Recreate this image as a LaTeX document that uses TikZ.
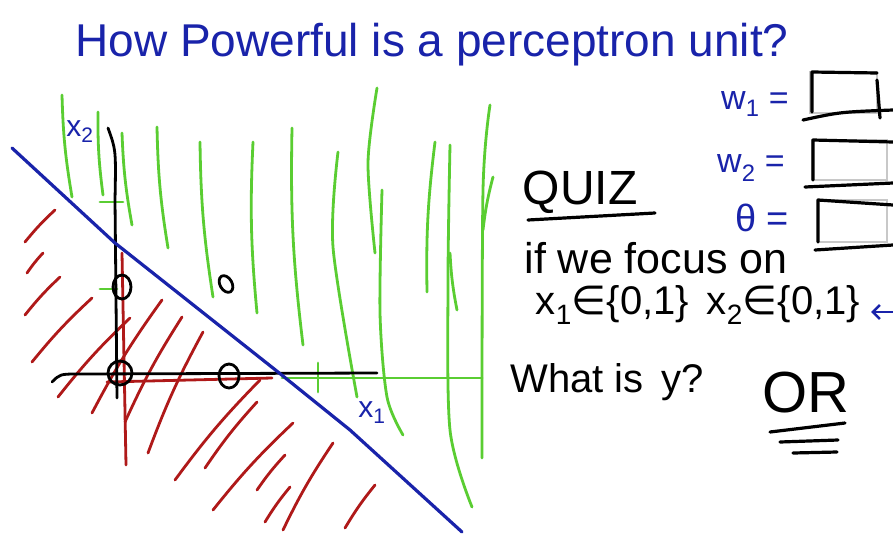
\documentclass[tikz,border=0pt]{standalone}
\usepackage{fontspec}
\setmainfont{Liberation Sans}
\newfontfamily\symbolfont{DejaVu Sans}
\usepackage{xcolor}
\usetikzlibrary{arrows.meta}
\definecolor{penblue}{RGB}{25,35,170}
\definecolor{pengreen}{RGB}{90,205,50}
\definecolor{penred}{RGB}{175,25,25}
\definecolor{boxgray}{RGB}{200,200,200}
\newcommand{\elem}{{\symbolfont ∈}}
\tikzset{
  pen/.style={line width=3.2pt,line cap=round,line join=round},
  hatch/.style={pen,penred,line width=2.8pt},
  grass/.style={pen,pengreen,line width=2.8pt},
  hand/.style={inner sep=0pt,font=\fontsize{#1}{#1}\selectfont},
  hand/.default=40
}
\begin{document}
\begin{tikzpicture}[x=1pt,y=-1pt]
\useasboundingbox (0,0) rectangle (893,533);
\fill[white] (0,0) rectangle (893,533);

% title
\node[hand=46,penblue] (title) at (432,45) {How Powerful is a perceptron unit?};

% green region (output 1)
\foreach \xa/\ya/\xb/\yb in {62/95/72/197,98/112/103/195,122/133/132/225,
  157/127/168/248,200/142/213/297,253/142/257/313,292/128/303/345,
  435/142/427/292,450/253/457/310,493/177/483/230}{
\draw[grass] (\xa,\ya) to[bend right=4] (\xb,\yb);
}
\draw[grass] plot[smooth] coordinates {(338,152) (333,247) (357,397)};
\draw[grass] plot[smooth] coordinates {(377,88) (368,163) (375,253)};
\draw[grass] plot[smooth] coordinates {(382,190) (380,313) (387,397) (403,435)};
\draw[grass] plot[smooth] coordinates {(450,145) (448,280) (450,430) (472,507)};
\draw[grass] plot[smooth] coordinates {(490,105) (483,190) (482,458)};
\draw[grass] (100,202) -- (123,202);
\draw[grass] (100,289) -- (117,289);
\draw[grass] (282,378) -- (482,378);
\draw[grass] (318,363) -- (318,392);

% red region (output 0)
\draw[hatch] (122,253) -- (126,465);
\draw[hatch] (107,382) -- (272,378);
\foreach \xa/\ya/\xb/\yb in {25/242/55/210,27/273/43/253,25/315/60/277,
  32/362/92/298,58/397/130/318,92/413/162/300,125/422/182/317,
  148/453/203/332,175/480/260/380,205/468/257/402,213/510/293/423,
  257/490/285/455,265/522/290/487,283/530/333/443,345/528/375/485}{
\draw[hatch] (\xa,\ya) to[bend left=4] (\xb,\yb);
}

% axes
\draw[pen,black,line width=2.8pt] (108,128) .. controls (116,150) .. (115,200) -- (117,398);
\draw[pen,black,line width=2.8pt] (52,382) .. controls (60,374) .. (80,374) -- (377,373);
\node[hand=30,penblue] (lblxtwo) at (80,132) {x\textsubscript{2}};
\node[hand=30,penblue] (lblxone) at (372,413) {x\textsubscript{1}};

% decision boundary
\draw[pen,penblue] (12,148) -- (115,243) -- (278,372) -- (350,430) -- (462,532);

% inputs
\draw[pen,black,line width=2.8pt] (120,373) circle[radius=12];
\draw[pen,black,line width=2.8pt] (122,287) ellipse[x radius=9,y radius=12];
\draw[pen,black,line width=2.8pt] (229,376) ellipse[x radius=10,y radius=12];
\draw[pen,black,line width=2.8pt,rotate around={30:(226,284)}] (226,284) ellipse[x radius=6,y radius=9];

% quiz text
\node[hand=48] (quiz) at (580,192) {QUIZ};
\draw[pen] (528,220) -- (655,213);
\node[hand=43] (focus) at (656,258) {if we focus on};
\node[hand=40] (domain) at (698,305) {x\textsubscript{1}\elem\{0,1\}\, x\textsubscript{2}\elem\{0,1\}};
\coordinate (arrstart) at (893,312);
\coordinate (arrend) at (871,312);
\draw[pen,penblue,line width=2.6pt,-{Straight Barb[length=7pt,width=14pt]}] (arrstart) -- (arrend);
\node[hand=40] (what) at (607,382) {What is\, y?};
\node[hand=58] (answer) at (806,393) {OR};
\draw[pen] (770,432) -- (845,423);
\draw[pen] (780,442) -- (838,440);
\draw[pen] (793,453) -- (837,452);

% weights
\node[hand=34,penblue] (wone) at (755,104) {w\textsubscript{1} =};
\node[hand=34,penblue] (wtwo) at (751,168) {w\textsubscript{2} =};
\node[hand=38,penblue] (theta) at (762,218) {θ =};
\draw[boxgray,line width=1.2pt] (810,72) rectangle (877,113);
\draw[boxgray,line width=1.2pt] (812,140) rectangle (887,180);
\draw[boxgray,line width=1.2pt] (818,200) rectangle (887,242);
\draw[pen] (812,112) -- (812,72) -- (877,73);
\draw[pen] (877,80) -- (880,118);
\draw[pen] (803,120) .. controls (840,112) .. (893,110);
\draw[pen] (813,180) -- (813,140) -- (893,142);
\draw[pen] (805,187) -- (893,183);
\draw[pen] (818,242) -- (818,200) -- (893,205);
\draw[pen] (815,250) -- (893,245);
\end{tikzpicture}
\end{document}
